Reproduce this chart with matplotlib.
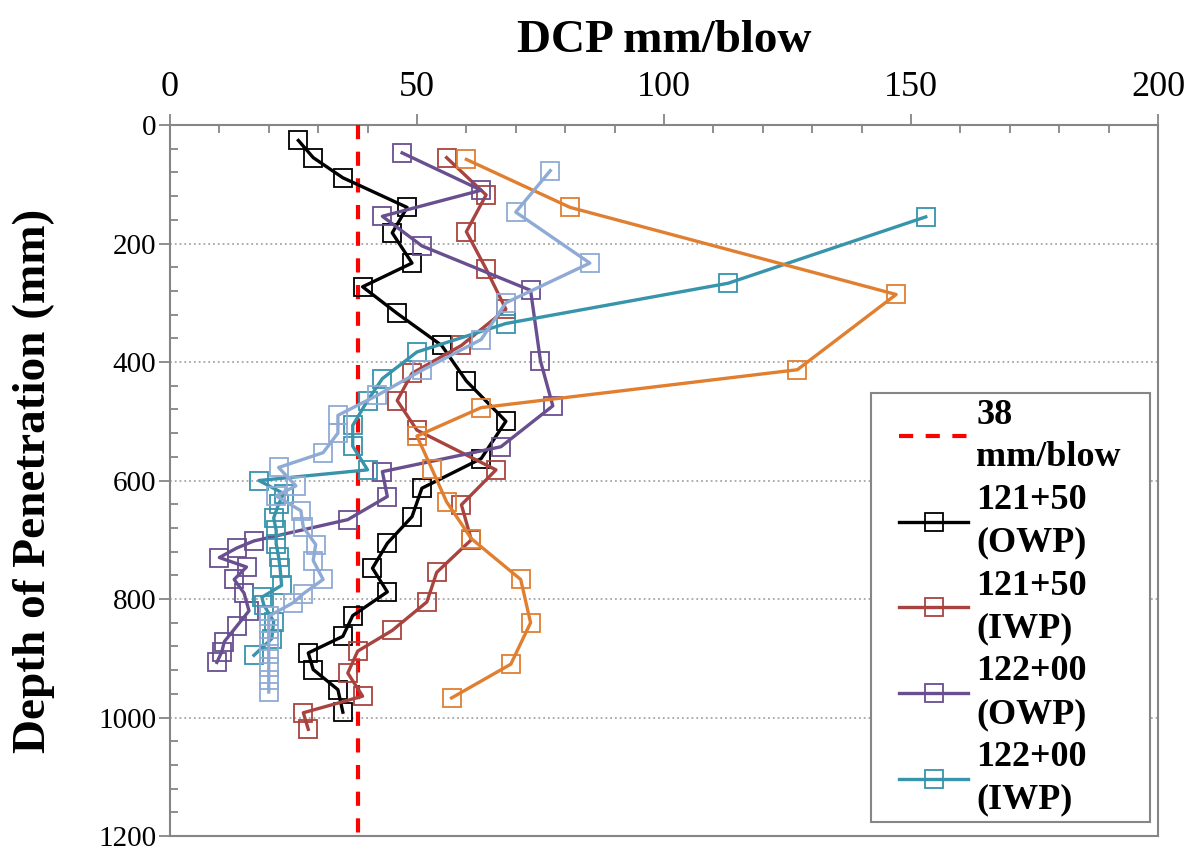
import matplotlib.pyplot as plt
from matplotlib.ticker import MultipleLocator
from matplotlib.legend_handler import HandlerLine2D

plt.rcParams['font.family'] = ['Liberation Serif', 'DejaVu Serif']

# 38 mm/blow reference line
limit_dcp = [38, 38]
limit_depth = [0, 1200]

# 121+50 (OWP)
owp_12150_depth = [26, 55, 89, 139, 182, 233, 273, 318, 372, 432, 500, 563, 613, 661, 706, 748, 788, 828, 863, 891, 919, 953, 991]
owp_12150_dcp = [26, 29, 35, 48, 45, 49, 39, 46, 55, 60, 68, 63, 51, 49, 44, 41, 44, 37, 35, 28, 29, 34, 35]

# 121+50 (IWP)
iwp_12150_depth = [55, 118, 180, 243, 311, 372, 419, 465, 515, 582, 641, 700, 755, 805, 853, 888, 925, 964, 992, 1020]
iwp_12150_dcp = [56, 64, 60, 64, 68, 59, 49, 46, 50, 66, 59, 61, 54, 52, 45, 38, 36, 39, 27, 28]

# 122+00 (OWP)
owp_12200_depth = [47, 110, 154, 204, 279, 398, 474, 543, 585, 627, 666, 702, 714, 730, 746, 767, 790, 820, 846, 872, 889, 907]
owp_12200_dcp = [47, 63, 43, 51, 73, 75, 77.5, 67, 43, 44, 36, 17, 13.5, 10, 15.5, 13, 15, 16, 13.5, 11, 10.5, 9.5]

# 122+00 (IWP)
iwp_12200_depth = [155, 267, 335, 383, 428, 465, 507, 542, 582, 600, 622, 640, 663, 684, 707, 729, 748, 777, 797, 810, 838, 867, 895]
iwp_12200_dcp = [153, 113, 68, 50, 43, 40, 37, 37, 40, 18, 23, 22, 21, 21.5, 21.5, 22, 22.3, 22.6, 18.6, 19, 21, 20.6, 17]

# 122+50 (OWP)
owp_12250_depth = [58, 139, 286, 413, 477, 525, 580, 636, 698, 767, 840, 910, 967]
owp_12250_dcp = [60, 81, 147, 127, 63, 50, 53, 56, 61, 71, 73, 69, 57]

# 122+50 (IWP)
iwp_12250_depth = [77, 147, 233, 300, 362, 414, 456, 490, 520, 553, 578, 609, 626, 651, 679, 708, 735, 767, 791, 806, 829, 850, 871, 893, 914, 936, 957]
iwp_12250_dcp = [77, 70, 85, 68, 63, 51, 42, 34, 34, 31, 22, 25.5, 21.5, 26.5, 27, 29.5, 29, 31, 27, 25, 20, 20, 20, 20, 20, 20, 20]

series = [
    (owp_12150_dcp, owp_12150_depth, '#000000', '121+50\n(OWP)'),
    (iwp_12150_dcp, iwp_12150_depth, '#A9433F', '121+50\n(IWP)'),
    (owp_12200_dcp, owp_12200_depth, '#694F8F', '122+00\n(OWP)'),
    (iwp_12200_dcp, iwp_12200_depth, '#3794AB', '122+00\n(IWP)'),
    (owp_12250_dcp, owp_12250_depth, '#E17F30', '_122+50 (OWP)'),
    (iwp_12250_dcp, iwp_12250_depth, '#8FAAD4', '_122+50 (IWP)'),
]


class IndentedLine(HandlerLine2D):
    # leaves an empty gap left of each legend handle
    indent = 0.25

    def create_artists(self, legend, orig_handle, xdescent, ydescent,
                       width, height, fontsize, trans):
        shift = width * self.indent
        return super().create_artists(legend, orig_handle, xdescent - shift, ydescent,
                                      width - shift, height, fontsize, trans)


fig, ax = plt.subplots(figsize=(11.96, 8.57), dpi=100)
fig.subplots_adjust(left=0.1421, right=0.9682, top=0.8541, bottom=0.0245)

ax.plot(limit_dcp, limit_depth, color='#FF0000', lw=3, dashes=(3.4, 3.0),
        label='38\nmm/blow', zorder=3)
for dcp, depth, color, label in series:
    ax.plot(dcp, depth, color=color, lw=2.4, marker='s', ms=13.5,
            mfc='none', mec=color, mew=1.3, label=label, zorder=4)

ax.set_xlim(0, 200)
ax.set_ylim(1200, 0)
ax.xaxis.tick_top()
ax.xaxis.set_label_position('top')
ax.xaxis.set_major_locator(MultipleLocator(50))
ax.xaxis.set_minor_locator(MultipleLocator(10))
ax.yaxis.set_major_locator(MultipleLocator(200))
ax.yaxis.set_minor_locator(MultipleLocator(40))

grey = '#868686'
ax.tick_params(which='major', direction='out', length=8, width=1.3, color=grey)
ax.tick_params(which='minor', direction='in', length=6, width=1.3, color=grey)
ax.tick_params(axis='x', labelsize=26, pad=7)
ax.tick_params(axis='y', labelsize=21, pad=2)
for sp in ax.spines.values():
    sp.set_color(grey)
    sp.set_linewidth(1.5)

ax.grid(axis='y', which='major', linestyle=':', color='#A6A6A6', lw=1.3)
ax.set_axisbelow(True)

ax.set_xlabel('DCP mm/blow', fontsize=34, fontweight='bold', labelpad=14)
ax.set_ylabel('Depth of Penetration (mm)', fontsize=34, fontweight='bold')
ax.yaxis.set_label_coords(-0.1165, 0.5)

leg = ax.legend(loc='lower left', bbox_to_anchor=(0.7095, 0.0197, 0.2824, 0.6),
                mode='expand', borderaxespad=0,
                prop={'size': 26, 'weight': 'bold'}, fancybox=False, framealpha=1,
                edgecolor=grey, handlelength=2.55, handletextpad=0.22,
                labelspacing=0.28, borderpad=0.15,
                handler_map={plt.Line2D: IndentedLine()})
leg.get_frame().set_linewidth(1.5)
for t in leg.get_texts():
    t.set_linespacing(1.38)

fig.savefig('out.png', dpi=100)
